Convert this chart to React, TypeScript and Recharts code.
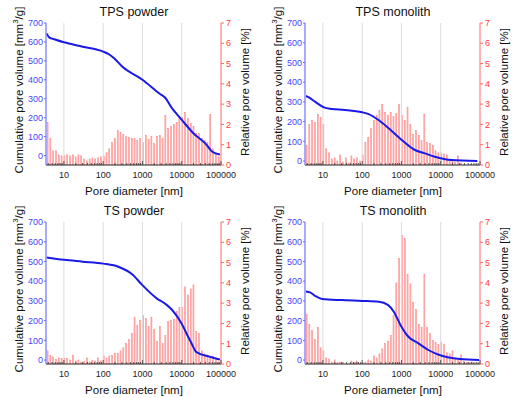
import React from 'react';
import { ComposedChart, Bar, Line, XAxis, YAxis, ReferenceLine } from 'recharts';

// bin centres of the histogram (nm)
const poreDiameters = [
  3.7, 4.36, 5.14, 6.06, 7.14, 8.42, 9.93, 11.7, 13.8, 16.3,
  19.2, 22.6, 26.6, 31.4, 37, 43.6, 51.4, 60.6, 71.4, 84.2,
  99.3, 117, 138, 163, 192, 226, 266, 314, 370, 436,
  514, 606, 714, 842, 993, 1170, 1380, 1630, 1920, 2260,
  2660, 3140, 3700, 4360, 5140, 6060, 7140, 8420, 9930, 11700,
  13800, 16300, 19200, 22600, 26600, 31400, 37000, 43600, 51400, 60600,
  71400, 84200,
];

// relative pore volume [%]
const tpsPowderRel = [
  2.1, 1.3, 0.7, 0.7, 0.5, 0.45, 0.45, 0.5, 0.45, 0.5,
  0.4, 0.5, 0.45, 0.3, 0.2, 0.3, 0.35, 0.3, 0.35, 0.4,
  0.45, 0.6, 0.8, 1.1, 1.3, 1.7, 1.6, 1.5, 1.4, 1.35,
  1.3, 1.3, 1.2, 1.3, 1.1, 1.45, 1.25, 1.4, 1.05, 1.4,
  1.45, 1.3, 2.45, 1.8, 1.9, 2.0, 2.1, 2.3, 2.35, 2.6,
  2.3, 2.05, 1.9, 1.55, 1.55, 1.3, 1.2, 1.1, 2.5, 0.8,
  0.6, 0.4,
];
const tpsMonolithRel = [
  0.95, 2.0, 2.2, 2.1, 2.5, 2.35, 2.0, 0.8, 0.6, 0.3,
  0.35, 0.2, 0.5, 0.15, 0.35, 0.1, 0.45, 0.3, 0.35, 0.2,
  0.5, 1.1, 1.35, 1.8, 2.2, 2.45, 2.7, 3.0, 2.6, 2.45,
  2.6, 2.4, 2.55, 3.0, 2.45, 2.2, 2.85, 2.0, 1.5, 1.7,
  1.45, 1.2, 2.5, 1.1, 1.05, 0.95, 0.7, 0.6, 0.6, 0.55,
  0.5, 0.3, 0.2, 0.15, 0.45, 0.1, 0, 0, 0, 0,
  0, 0,
];
const tsPowderRel = [
  0.65, 0.43, 0.35, 0.23, 0.3, 0.27, 0.28, 0.27, 0.2, 0.43,
  0.15, 0.2, 0.1, 0.13, 0.3, 0.1, 0.17, 0.15, 0.3, 0.15,
  0.4, 0.3, 0.4, 0.43, 0.53, 0.53, 0.65, 0.8, 1.0, 1.2,
  1.5, 2.3, 1.9, 2.15, 2.4, 2.25, 1.85, 2.3, 1.7, 1.1,
  1.85, 1.0, 1.4, 2.1, 2.15, 2.2, 2.6, 2.8, 2.8, 3.8,
  3.4, 3.7, 3.9, 1.6, 1.5, 0.65, 0.5, 0.45, 0.3, 0.4,
  0.25, 0.1,
];
const tsMonolithRel = [
  2.45, 1.95, 1.65, 1.2, 1.8, 0.8, 0.65, 0.3, 0.25, 0.1,
  0.2, 0.07, 0.1, 0.07, 0, 0, 0.15, 0.07, 0.15, 0,
  0.1, 0.1, 0.2, 0.15, 0.4, 0.3, 0.5, 0.75, 1.0, 1.1,
  1.4, 2.4, 4.0, 5.2, 6.35, 6.2, 4.4, 3.95, 3.05, 2.7,
  1.95, 1.8, 4.4, 1.8, 1.5, 1.15, 1.05, 0.98, 1.05, 0.98,
  0.55, 0.5, 0.65, 0.3, 0.25, 0.45, 0.15, 0.07, 0.07, 0.1,
  0, 0,
];

// cumulative pore volume [mm3/g] vs pore diameter [nm]
const tpsPowderCumD = [3.6, 4.3, 5.7, 10, 30, 100, 140, 190, 305, 1000, 2800, 3800, 5640, 9900, 19500, 42500, 60000, 94000];
const tpsPowderCum = [645, 623, 614, 598, 575, 549, 535, 514, 470, 400, 325, 305, 250, 190, 119, 58, 20, 5];
const tpsMonolithCumD = [3.7, 4.4, 6.3, 10.6, 16.6, 36, 100, 146, 261, 547, 1016, 2210, 3820, 7080, 18600, 85500];
const tpsMonolithCum = [331, 323, 301, 272, 264, 259, 247, 238, 208, 155, 107, 56, 40, 22, 5, 0];
const tsPowderCumD = [3.6, 10, 29.6, 100, 251, 547, 982, 2300, 3820, 5640, 9910, 14000, 17700, 23700, 51600, 94000];
const tsPowderCum = [520, 508, 499, 489, 472, 435, 381, 313, 285, 255, 185, 125, 85, 40, 17, 3];
const tsMonolithCumD = [3.7, 4.7, 6.3, 9.6, 29.6, 99, 266, 450, 640, 942, 1500, 2700, 4850, 8600, 31000, 94400];
const tsMonolithCum = [348, 343, 326, 310, 304, 300, 296, 280, 245, 178, 118, 85, 51, 28, 5, 0];

const xMajorTicks = [10, 100, 1000, 10000, 100000];
const xMinorTicks = [
  4, 5, 6, 7, 8, 9, 20, 30, 40, 50, 60, 70, 80, 90,
  200, 300, 400, 500, 600, 700, 800, 900,
  2000, 3000, 4000, 5000, 6000, 7000, 8000, 9000,
  20000, 30000, 40000, 50000, 60000, 70000, 80000, 90000,
];
const gridTicks = [10, 100, 1000, 10000];
const cumTicks = [0, 100, 200, 300, 400, 500, 600, 700];
const relTicks = [0, 1, 2, 3, 4, 5, 6, 7];

const panels = [
  { title: 'TPS powder', rel: tpsPowderRel, cumD: tpsPowderCumD, cum: tpsPowderCum, cumMin: -50, left: 0, top: 0 },
  { title: 'TPS monolith', rel: tpsMonolithRel, cumD: tpsMonolithCumD, cum: tpsMonolithCum, cumMin: -20, left: 259, top: 0 },
  { title: 'TS powder', rel: tsPowderRel, cumD: tsPowderCumD, cum: tsPowderCum, cumMin: -20, left: 0, top: 199 },
  { title: 'TS monolith', rel: tsMonolithRel, cumD: tsMonolithCumD, cum: tsMonolithCum, cumMin: -20, left: 259, top: 199 },
];

const allXTicks = [...xMinorTicks, ...xMajorTicks].sort((a, b) => a - b);
const BLUE = '#1a1ae6';
const RED = '#ff3c3c';

const BottomTick = (props: any) => {
  const { x, y, payload } = props;
  const major = xMajorTicks.includes(payload.value);
  return (
    <g>
      <line x1={x} x2={x} y1={y} y2={y - (major ? 4 : 2)} stroke="#333" strokeWidth={0.8} />
      {major && (
        <text x={x} y={y + 12.5} textAnchor="middle" fontSize={9} fill="#222">
          {payload.value}
        </text>
      )}
    </g>
  );
};

const TopTick = (props: any) => {
  const { x, y, payload } = props;
  const major = xMajorTicks.includes(payload.value);
  return <line x1={x} x2={x} y1={y} y2={y + (major ? 4 : 2)} stroke="#333" strokeWidth={0.8} />;
};

const PoreBar = (props: any) => {
  const { x, y, width, height } = props;
  if (!height || height <= 0) return null;
  return (
    <rect
      x={x + 0.15}
      y={y}
      width={Math.max(width - 0.3, 1)}
      height={height}
      fill="#ffc4c4"
      stroke="#ff7a7a"
      strokeWidth={0.5}
    />
  );
};

function Panel({ p }: { p: (typeof panels)[number] }) {
  const barData = poreDiameters.map((d, i) => ({ d, rel: p.rel[i] }));
  const lineData = p.cumD.map((d, i) => ({ d, cum: p.cum[i] }));

  return (
    <div style={{ position: 'absolute', left: p.left, top: p.top, width: 259, height: 199 }}>
      <ComposedChart
        width={259}
        height={199}
        data={barData}
        barCategoryGap={0}
        barGap={0}
        margin={{ top: 23, right: 0, bottom: 0, left: 0 }}
      >
        <XAxis
          xAxisId="b"
          dataKey="d"
          type="number"
          scale="log"
          domain={[3.5, 100000]}
          allowDataOverflow
          ticks={allXTicks}
          interval={0}
          height={34}
          tickSize={0}
          tickMargin={0}
          tickLine={false}
          axisLine={{ stroke: '#222', strokeWidth: 1 }}
          tick={<BottomTick />}
        />
        <XAxis
          xAxisId="t"
          orientation="top"
          dataKey="d"
          type="number"
          scale="log"
          domain={[3.5, 100000]}
          allowDataOverflow
          ticks={allXTicks}
          interval={0}
          height={0}
          tickSize={0}
          tickMargin={0}
          tickLine={false}
          axisLine={{ stroke: '#333', strokeWidth: 1 }}
          tick={<TopTick />}
        />
        <YAxis
          yAxisId="left"
          orientation="left"
          width={46}
          domain={[p.cumMin, 700]}
          allowDataOverflow
          ticks={cumTicks}
          interval={0}
          tickSize={2}
          tickMargin={1}
          axisLine={{ stroke: '#8c8cff', strokeWidth: 1.5 }}
          tickLine={{ stroke: '#6a6aff' }}
          tick={{ fill: '#4646ff', fontSize: 9 }}
        />
        <YAxis
          yAxisId="right"
          orientation="right"
          width={38}
          domain={[0, 7]}
          allowDataOverflow
          ticks={relTicks}
          interval={0}
          tickSize={3}
          tickMargin={2}
          axisLine={{ stroke: '#ff9a9a', strokeWidth: 1.5 }}
          tickLine={{ stroke: '#ff6a6a' }}
          tick={{ fill: RED, fontSize: 9 }}
        />
        {gridTicks.map((g) => (
          <ReferenceLine key={g} x={g} xAxisId="b" yAxisId="left" stroke="#dcdcdc" strokeWidth={1} />
        ))}
        <Bar
          xAxisId="b"
          yAxisId="right"
          dataKey="rel"
          barSize={2.8}
          shape={PoreBar}
          isAnimationActive={false}
        />
        <Line
          xAxisId="b"
          yAxisId="left"
          data={lineData}
          dataKey="cum"
          type="monotone"
          stroke={BLUE}
          strokeWidth={2}
          dot={false}
          isAnimationActive={false}
        />
      </ComposedChart>
      <svg
        width={259}
        height={199}
        style={{ position: 'absolute', left: 0, top: 0, pointerEvents: 'none' }}
      >
        <text x={134} y={16} textAnchor="middle" fontSize={12.5} fill="#111">
          {p.title}
        </text>
        <text
          x={19}
          y={90}
          textAnchor="middle"
          dominantBaseline="central"
          fontSize={11.5}
          fill="#111"
          transform="rotate(-90 19 90)"
        >
          Cumulative pore volume [mm<tspan fontSize={8} dy={-4}>3</tspan>
          <tspan dy={4}>/g]</tspan>
        </text>
        <text
          x={245}
          y={92}
          textAnchor="middle"
          dominantBaseline="central"
          fontSize={11.5}
          fill="#111"
          transform="rotate(-90 245 92)"
        >
          Relative pore volume [%]
        </text>
        <text x={134} y={195} textAnchor="middle" fontSize={11.5} fill="#111">
          Pore diameter [nm]
        </text>
      </svg>
    </div>
  );
}

export default function App() {
  return (
    <div
      style={{
        position: 'absolute',
        left: 0,
        top: 0,
        width: 519,
        height: 398,
        background: '#fff',
        fontFamily: '"Liberation Sans", Arial, sans-serif',
      }}
    >
      {panels.map((p) => (
        <Panel key={p.title} p={p} />
      ))}
    </div>
  );
}
